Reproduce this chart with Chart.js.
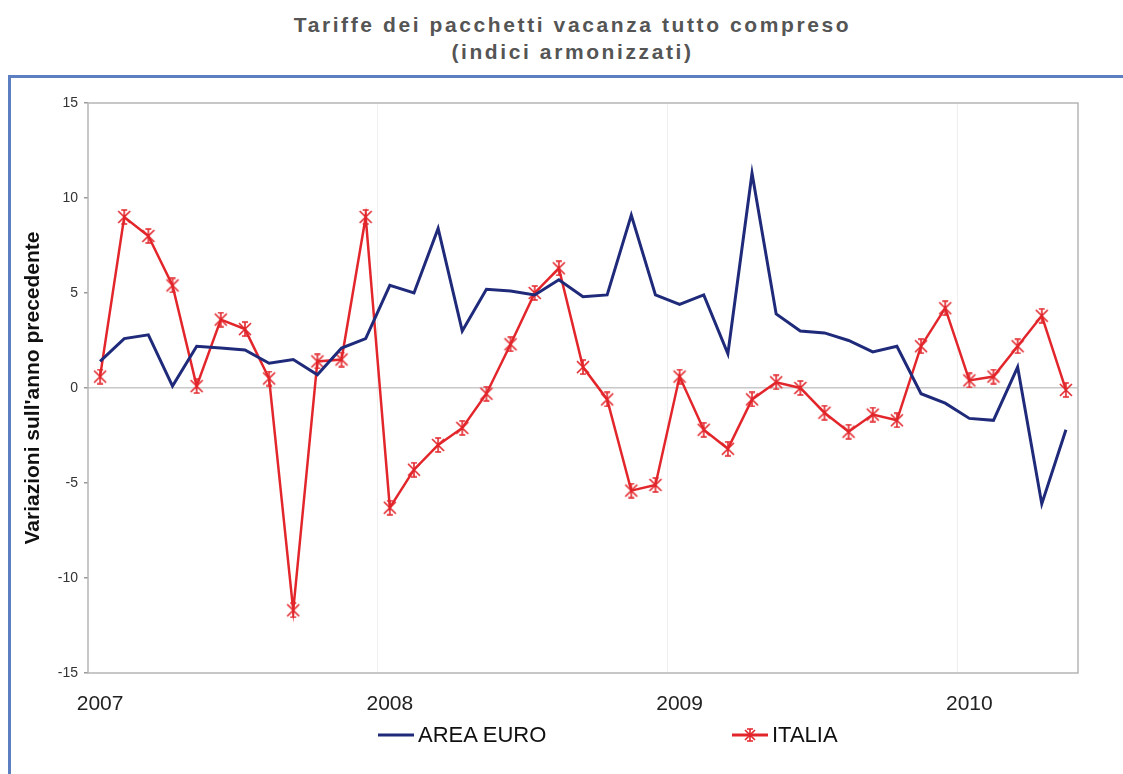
<!DOCTYPE html>
<html>
<head>
<meta charset="utf-8">
<script src="https://cdn.jsdelivr.net/npm/chart.js@4/dist/chart.umd.min.js"></script>
<style>
  body { margin: 0; background: #fff; width: 1123px; height: 774px; overflow: hidden; position: relative; font-family: Arial, "Liberation Sans", sans-serif; }
  #frame { position: absolute; left: 8px; top: 75px; width: 1140px; height: 740px; border: 3px solid #5b7fc0; }
  #title { position: absolute; left: 0; top: 11px; width: 1145px; text-align: center; font-weight: bold; font-size: 21px; line-height: 27px; letter-spacing: 2.6px; color: #555; }
  #chart { position: absolute; left: 0; top: 0; }
  .leg { position: absolute; top: 723px; font-size: 22px; color: #111; line-height: 24px; }
  .leg svg { position: absolute; top: 5px; }
</style>
</head>
<body>
<div id="frame"></div>
<div id="title">Tariffe dei pacchetti vacanza tutto compreso<br>(indici armonizzati)</div>
<canvas id="chart" width="1123" height="774"></canvas>
<div class="leg" style="left:378px"><svg width="36" height="14"><line x1="0" y1="7" x2="36" y2="7" stroke="#1f2a7a" stroke-width="3"/></svg><span style="margin-left:40px">AREA EURO</span></div>
<div class="leg" style="left:732px"><svg width="36" height="14"><line x1="0" y1="7" x2="36" y2="7" stroke="#e2262b" stroke-width="3"/><path d="M13 2 L23 12 M23 2 L13 12 M18 1 L18 13 M15 1 L21 1 M15 13 L21 13" stroke="#e2262b" stroke-width="1.6" fill="none"/></svg><span style="margin-left:40px">ITALIA</span></div>
<script>
// monthly observations, Jan 2007 - May 2010
const months = [
  '2007-01','2007-02','2007-03','2007-04','2007-05','2007-06','2007-07','2007-08','2007-09','2007-10','2007-11','2007-12',
  '2008-01','2008-02','2008-03','2008-04','2008-05','2008-06','2008-07','2008-08','2008-09','2008-10','2008-11','2008-12',
  '2009-01','2009-02','2009-03','2009-04','2009-05','2009-06','2009-07','2009-08','2009-09','2009-10','2009-11','2009-12',
  '2010-01','2010-02','2010-03','2010-04','2010-05'
];
const areaEuro = [
  1.4, 2.6, 2.8, 0.1, 2.2, 2.1, 2.0, 1.3, 1.5, 0.7, 2.1, 2.6,
  5.4, 5.0, 8.4, 3.0, 5.2, 5.1, 4.9, 5.7, 4.8, 4.9, 9.1, 4.9,
  4.4, 4.9, 1.8, 11.3, 3.9, 3.0, 2.9, 2.5, 1.9, 2.2, -0.3, -0.8,
  -1.6, -1.7, 1.1, -6.1, -2.2
];
const italia = [
  0.6, 9.0, 8.0, 5.4, 0.1, 3.6, 3.1, 0.5, -11.7, 1.4, 1.5, 9.0,
  -6.3, -4.3, -3.0, -2.1, -0.3, 2.3, 5.0, 6.3, 1.1, -0.6, -5.4, -5.1,
  0.6, -2.2, -3.2, -0.6, 0.3, 0.0, -1.3, -2.3, -1.4, -1.7, 2.2, 4.2,
  0.4, 0.6, 2.2, 3.8, -0.1
];
const yTicks = [-15, -10, -5, 0, 5, 10, 15];

const navy = '#1f2a7a';
const red = '#e2262b';

// asterisk marker like the Excel one
const star = document.createElement('canvas');
star.width = 16; star.height = 16;
(function() {
    const c = star.getContext('2d');
    c.strokeStyle = red;
    c.lineWidth = 1.6;
    c.beginPath();
    c.moveTo(2, 2); c.lineTo(14, 14);
    c.moveTo(14, 2); c.lineTo(2, 14);
    c.moveTo(8, 1); c.lineTo(8, 15);
    c.moveTo(5, 1); c.lineTo(11, 1);
    c.moveTo(5, 15); c.lineTo(11, 15);
    c.stroke();
})();

const plotBorder = {
    id: 'plotBorder',
    beforeDatasetsDraw(chart) {
        const a = chart.chartArea;
        const ctx = chart.ctx;
        ctx.save();
        ctx.strokeStyle = '#b5b5b5';
        ctx.lineWidth = 1.5;
        ctx.strokeRect(a.left, a.top, a.right - a.left, a.bottom - a.top);
        ctx.restore();
    }
};

new Chart(document.getElementById('chart'), {
    type: 'line',
    data: {
        labels: months,
        datasets: [{
            label: 'AREA EURO',
            data: areaEuro,
            borderColor: navy,
            borderWidth: 3,
            pointRadius: 0,
            tension: 0
        }, {
            label: 'ITALIA',
            data: italia,
            borderColor: red,
            borderWidth: 2.5,
            pointStyle: star,
            pointRadius: 5,
            tension: 0
        }]
    },
    options: {
        responsive: false,
        animation: false,
        devicePixelRatio: 1,
        layout: { padding: { top: 103, right: 45, bottom: 57, left: 0 } },
        plugins: {
            legend: { display: false },
            tooltip: { enabled: false }
        },
        scales: {
            x: {
                offset: true,
                grid: {
                    offset: true,
                    drawTicks: false,
                    color: ctx => (ctx.index > 0 && months[ctx.index] && months[ctx.index].endsWith('-01')) ? '#efefef' : 'transparent'
                },
                border: { display: false },
                ticks: {
                    autoSkip: false,
                    maxRotation: 0,
                    padding: 19,
                    color: '#222',
                    font: { family: 'Arial', size: 21 },
                    callback: (v, i) => months[i].endsWith('-01') ? months[i].slice(0, 4) : ''
                },
                afterFit: s => { s.height = 44; }
            },
            y: {
                min: -15,
                max: 15,
                afterBuildTicks: s => { s.ticks = yTicks.map(v => ({ value: v })); },
                grid: {
                    tickLength: 4,
                    tickColor: '#999',
                    color: ctx => ctx.tick && ctx.tick.value === 0 ? '#c8c8c8' : 'transparent',
                    lineWidth: 1.5
                },
                border: { display: false },
                ticks: {
                    padding: 6,
                    color: '#333',
                    font: { family: 'Arial', size: 14 }
                },
                title: {
                    display: true,
                    text: "Variazioni sull'anno precedente",
                    color: '#111',
                    font: { family: 'Arial', size: 21, weight: 'bold' },
                    padding: { top: 21 }
                },
                afterFit: s => { s.width = 88; }
            }
        }
    },
    plugins: [plotBorder]
});
</script>
</body>
</html>
